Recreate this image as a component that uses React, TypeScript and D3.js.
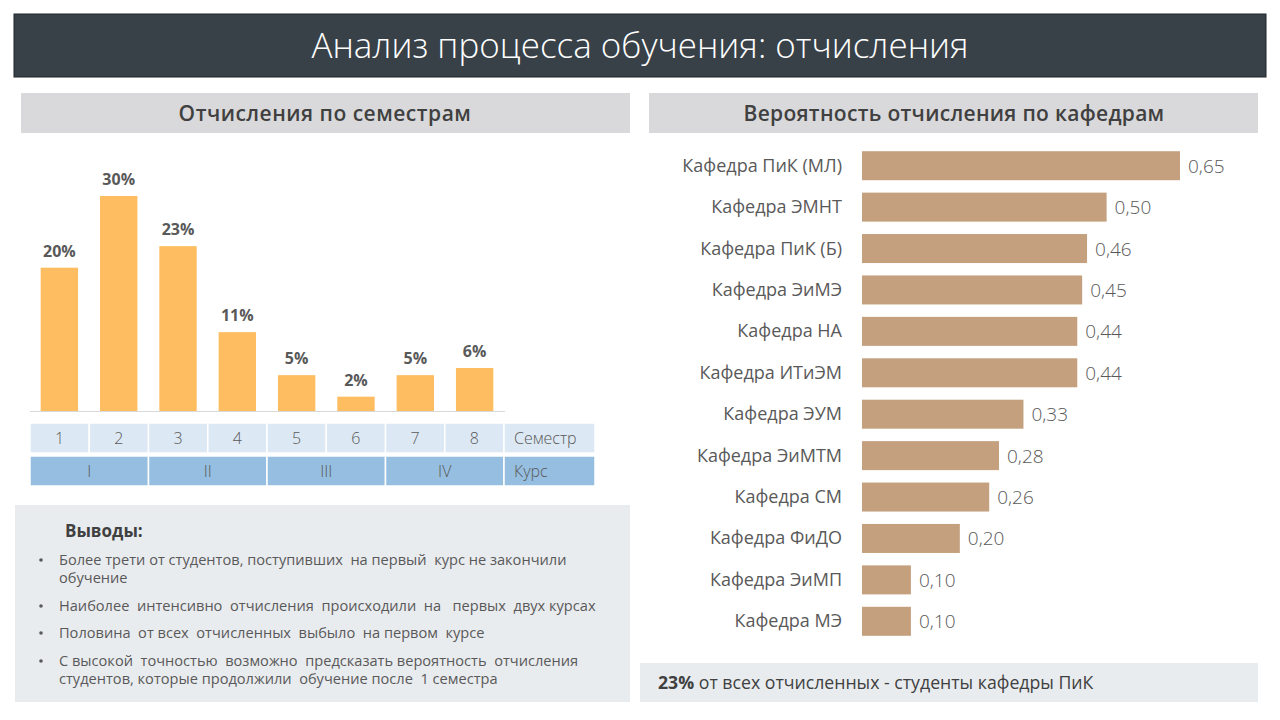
import React from "react";
import * as d3 from "d3";

const semesters = ["1", "2", "3", "4", "5", "6", "7", "8"];
const semesterValues = [20, 30, 23, 11, 5, 2, 5, 6];
const courses = ["I", "II", "III", "IV"];
const departments = [
  "Кафедра ПиК (МЛ)",
  "Кафедра ЭМНТ",
  "Кафедра ПиК (Б)",
  "Кафедра ЭиМЭ",
  "Кафедра НА",
  "Кафедра ИТиЭМ",
  "Кафедра ЭУМ",
  "Кафедра ЭиМТМ",
  "Кафедра СМ",
  "Кафедра ФиДО",
  "Кафедра ЭиМП",
  "Кафедра МЭ",
];
const departmentValues = [0.65, 0.5, 0.46, 0.45, 0.44, 0.44, 0.33, 0.28, 0.26, 0.2, 0.1, 0.1];
const conclusions = [
  ["Более трети от студентов, поступивших  на первый  курс не закончили", "обучение"],
  ["Наиболее  интенсивно  отчисления  происходили  на   первых  двух курсах"],
  ["Половина  от всех  отчисленных  выбыло  на первом  курсе"],
  ["С высокой  точностью  возможно  предсказать вероятность  отчисления", "студентов, которые продолжили  обучение после  1 семестра"],
];

const FONT = "'Open Sans', 'Noto Sans', sans-serif";
const TXT = "#595959";

export default function App() {
  // left chart scales
  const x = d3.scaleBand<string>().domain(semesters).range([30, 504]).paddingInner(0.37).paddingOuter(0.18);
  const y = d3.scaleLinear().domain([0, 30]).range([411, 196]);
  const tableX0 = 30;
  const cellW = (504 - tableX0) / semesters.length;

  // right chart scales
  const yb = d3.scaleBand<string>().domain(departments).range([145, 642]).paddingInner(0.3).paddingOuter(0.15);
  const xb = d3.scaleLinear().domain([0, 0.65]).range([862, 1180]);
  const fmt = (v: number) => d3.format(".2f")(v).replace(".", ",");

  return (
    <svg
      width={1280}
      height={720}
      style={{ position: "absolute", left: 0, top: 0, background: "#fff", fontFamily: FONT }}
    >
      {/* header */}
      <rect x={14} y={14} width={1252} height={63} fill="#384048" stroke="#1e2428" strokeWidth={1} />
      <text x={640} y={58} textAnchor="middle" fill="#fff" fontSize={35} fontWeight={300}>
        Анализ процесса обучения: отчисления
      </text>

      {/* section headers */}
      <rect x={21} y={93} width={609} height={40} fill="#d9d9db" />
      <text x={325} y={121} textAnchor="middle" fill="#404040" fontSize={21} fontWeight={600} letterSpacing={0.5}>
        Отчисления  по семестрам
      </text>
      <rect x={649} y={93} width={609} height={40} fill="#d9d9db" />
      <text x={954} y={121} textAnchor="middle" fill="#404040" fontSize={21} fontWeight={600} letterSpacing={0.3}>
        Вероятность отчисления по кафедрам
      </text>

      {/* left bar chart */}
      <line x1={30} x2={505} y1={411.5} y2={411.5} stroke="#d9d9d9" strokeWidth={1} />
      {semesters.map((s, i) => (
        <g key={s}>
          <rect x={x(s)} y={y(semesterValues[i])} width={x.bandwidth()} height={411 - y(semesterValues[i])} fill="#fdbd60" />
          <text
            x={(x(s) as number) + x.bandwidth() / 2}
            y={y(semesterValues[i]) - 11}
            textAnchor="middle"
            fill={TXT}
            fontSize={16}
            fontWeight={700}
          >
            {semesterValues[i]}%
          </text>
        </g>
      ))}

      {/* table rows */}
      {semesters.map((s, i) => (
        <g key={"sem" + s}>
          <rect x={tableX0 + i * cellW} y={423} width={cellW} height={30} fill="#dce8f3" stroke="#fff" strokeWidth={1.5} />
          <text x={tableX0 + i * cellW + cellW / 2} y={444} textAnchor="middle" fill={TXT} fontSize={16} fontWeight={300}>
            {s}
          </text>
        </g>
      ))}
      <rect x={504} y={423} width={91} height={30} fill="#dce8f3" stroke="#fff" strokeWidth={1.5} />
      <text x={514} y={444} fill={TXT} fontSize={16} fontWeight={300}>Семестр</text>
      {courses.map((c, i) => (
        <g key={"c" + c}>
          <rect x={tableX0 + i * cellW * 2} y={456} width={cellW * 2} height={30} fill="#96bee0" stroke="#fff" strokeWidth={1.5} />
          <text x={tableX0 + i * cellW * 2 + cellW} y={477} textAnchor="middle" fill={TXT} fontSize={16} fontWeight={300}>
            {c}
          </text>
        </g>
      ))}
      <rect x={504} y={456} width={91} height={30} fill="#96bee0" stroke="#fff" strokeWidth={1.5} />
      <text x={514} y={477} fill={TXT} fontSize={16} fontWeight={300}>Курс</text>

      {/* conclusions */}
      <rect x={15} y={505} width={615} height={197} fill="#e9ecef" />
      <text x={65} y={537} fill="#404040" fontSize={17} fontWeight={700}>Выводы:</text>
      {(() => {
        const starts = [565, 611, 638, 666];
        return conclusions.map((lines, i) => (
          <g key={"b" + i}>
            <circle cx={41} cy={starts[i] - 5} r={1.8} fill={TXT} />
            {lines.map((l, j) => (
              <text key={j} x={59} y={starts[i] + j * 18} fill={TXT} fontSize={14.6} style={{ whiteSpace: "pre" }}>
                {l}
              </text>
            ))}
          </g>
        ));
      })()}

      {/* right bar chart */}
      {departments.map((d, i) => {
        const yy = yb(d) as number;
        const h = yb.bandwidth();
        return (
          <g key={d}>
            <text x={842} y={yy + h / 2 + 6} textAnchor="end" fill={TXT} fontSize={18}>{d}</text>
            <rect x={862} y={yy} width={xb(departmentValues[i]) - 862} height={h} fill="#c4a07e" />
            <text x={xb(departmentValues[i]) + 8} y={yy + h / 2 + 7} fill={TXT} fontSize={19} fontWeight={300}>
              {fmt(departmentValues[i])}
            </text>
          </g>
        );
      })}

      {/* bottom right note */}
      <rect x={640} y={663} width={618} height={39} fill="#e9ecef" />
      <text x={658} y={689} fill="#404040" fontSize={17.7}>
        <tspan fontWeight={700}>23%</tspan>
        <tspan> от всех отчисленных - студенты кафедры ПиК</tspan>
      </text>
    </svg>
  );
}
